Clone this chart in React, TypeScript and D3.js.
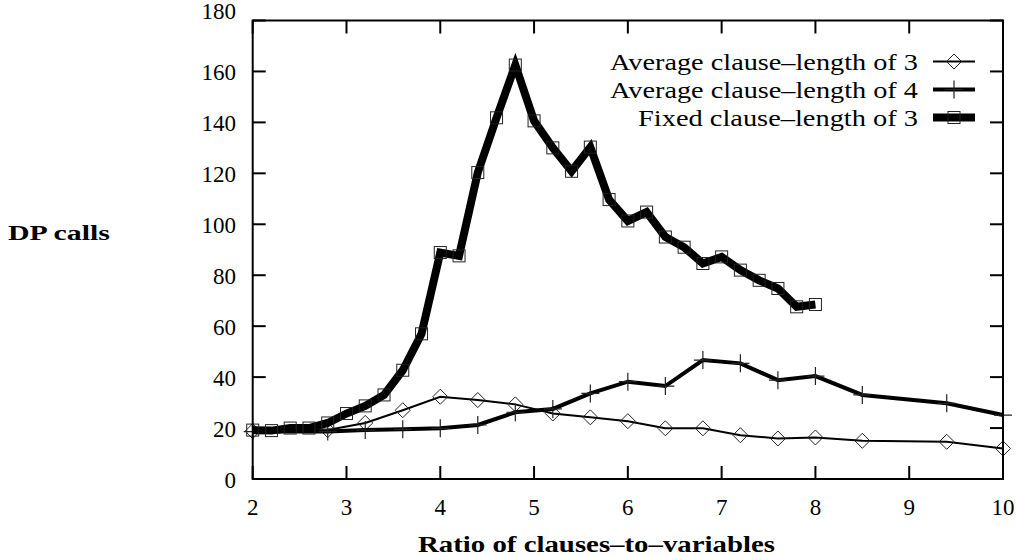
import React from "react";
import * as d3 from "d3";

const avg3X = [2, 2.8, 3.2, 3.6, 4.0, 4.4, 4.8, 5.2, 5.6, 6.0, 6.4, 6.8, 7.2, 7.6, 8.0, 8.5, 9.4, 10];
const avg3Y = [18.8, 19.2, 22, 27, 32.3, 31, 29.3, 25.7, 24.2, 22.7, 19.9, 19.9, 17.2, 15.9, 16.3, 15, 14.6, 12];

const avg4X = [2, 2.8, 3.2, 3.6, 4.0, 4.4, 4.8, 5.2, 5.6, 6.0, 6.4, 6.8, 7.2, 7.6, 8.0, 8.5, 9.4, 10];
const avg4Y = [18.6, 18.6, 19.2, 19.5, 19.9, 21.2, 26.2, 27.5, 33.6, 38.2, 36.5, 46.7, 45.4, 38.8, 40.4, 33, 29.7, 25.1];

const fixedX = [2, 2.2, 2.4, 2.6, 2.8, 3.0, 3.2, 3.4, 3.6, 3.8, 4.0, 4.2, 4.4, 4.6, 4.8, 5.0, 5.2, 5.4, 5.6, 5.8, 6.0, 6.2, 6.4, 6.6, 6.8, 7.0, 7.2, 7.4, 7.6, 7.8, 8.0];
const fixedY = [19.2, 19, 20, 20, 22, 25.7, 28.7, 33, 42.7, 57, 88.9, 87.6, 120.3, 141.8, 162.5, 140.6, 130, 120.8, 130.3, 109.7, 101.3, 104.8, 95, 91, 84.6, 87.2, 82, 78, 74.8, 67.6, 68.5];

const xTicks = [2, 3, 4, 5, 6, 7, 8, 9, 10];
const yTicks = [0, 20, 40, 60, 80, 100, 120, 140, 160, 180];

const legendLabels = ["Average clause\u2013length of 3", "Average clause\u2013length of 4", "Fixed clause\u2013length of 3"];
const legendWidths = [308, 308, 280];

const W = 1016;
const H = 557;
const left = 252.7;
const right = 1003;
const top = 20.5;
const bottom = 479;

const FONT = "'Liberation Serif', 'Times New Roman', serif";

function Marker({ kind, x, y }: { kind: string; x: number; y: number }) {
  const stroke = "#222";
  if (kind === "diamond") {
    const r = 7.5;
    return <path d={`M${x - r},${y}L${x},${y - r}L${x + r},${y}L${x},${y + r}Z`} fill="none" stroke={stroke} strokeWidth={1} />;
  }
  if (kind === "plus") {
    const r = 9;
    return <path d={`M${x - r},${y}H${x + r}M${x},${y - r}V${y + r}`} fill="none" stroke={stroke} strokeWidth={1.2} />;
  }
  const r = 6;
  return <rect x={x - r} y={y - r} width={2 * r} height={2 * r} fill="none" stroke={stroke} strokeWidth={1} />;
}

export default function App() {
  const x = d3.scaleLinear().domain([2, 10]).range([left, right]);
  const y = d3.scaleLinear().domain([0, 180]).range([bottom, top]);

  const series = [
    { xs: avg3X, ys: avg3Y, kind: "diamond", width: 2 },
    { xs: avg4X, ys: avg4Y, kind: "plus", width: 4 },
    { xs: fixedX, ys: fixedY, kind: "square", width: 8 },
  ];

  const line = d3
    .line<[number, number]>()
    .x((d) => x(d[0]))
    .y((d) => y(d[1]));

  const tickLen = 13;
  const yMax = yTicks[yTicks.length - 1];

  return (
    <svg width={W} height={H} style={{ display: "block", position: "absolute", left: 0, top: 0 }} fontFamily={FONT}>
      <rect x={0} y={0} width={W} height={H} fill="white" />
      {xTicks.map((t) => (
        <g key={"xt" + t}>
          <line x1={x(t)} x2={x(t)} y1={bottom} y2={bottom - tickLen} stroke="black" strokeWidth={2} />
          <line x1={x(t)} x2={x(t)} y1={top} y2={top + tickLen} stroke="black" strokeWidth={2} />
          <text x={x(t)} y={507} fontSize={23} textAnchor="middle" dominantBaseline="central">
            {t}
          </text>
        </g>
      ))}
      {yTicks.map((t) => (
        <g key={"yt" + t}>
          <line x1={left} x2={left + tickLen} y1={y(t)} y2={y(t)} stroke="black" strokeWidth={2} />
          <line x1={right} x2={right - tickLen} y1={y(t)} y2={y(t)} stroke="black" strokeWidth={2} />
          <text x={236} y={t === yMax ? y(t) - 9 : y(t) + 1} fontSize={23} textAnchor="end" dominantBaseline="central">
            {t}
          </text>
        </g>
      ))}
      {series.map((s, i) => {
        const pts = s.xs.map((v, j) => [v, s.ys[j]] as [number, number]);
        return (
          <g key={"s" + i}>
            <path d={line(pts) || ""} fill="none" stroke="black" strokeWidth={s.width} strokeLinejoin="miter" />
            {pts.map((p, j) => (
              <Marker key={j} kind={s.kind} x={x(p[0])} y={y(p[1])} />
            ))}
          </g>
        );
      })}
      {series.map((s, i) => {
        const ly = 61.5 + i * 28;
        return (
          <g key={"lg" + i}>
            <text
              x={918}
              y={ly}
              fontSize={24}
              textAnchor="end"
              dominantBaseline="central"
              textLength={legendWidths[i]}
              lengthAdjust="spacingAndGlyphs"
            >
              {legendLabels[i]}
            </text>
            <line x1={933} x2={975} y1={ly} y2={ly} stroke="black" strokeWidth={s.width} />
            <Marker kind={s.kind} x={954} y={ly} />
          </g>
        );
      })}
      <rect x={left} y={top} width={right - left} height={bottom - top} fill="none" stroke="black" strokeWidth={2} />
      <text x={8} y={233} fontSize={20} fontWeight="bold" dominantBaseline="central" textLength={102} lengthAdjust="spacingAndGlyphs">
        DP calls
      </text>
      <text x={418} y={544} fontSize={23} fontWeight="bold" dominantBaseline="central" textLength={357} lengthAdjust="spacingAndGlyphs">
        Ratio of clauses–to–variables
      </text>
    </svg>
  );
}
